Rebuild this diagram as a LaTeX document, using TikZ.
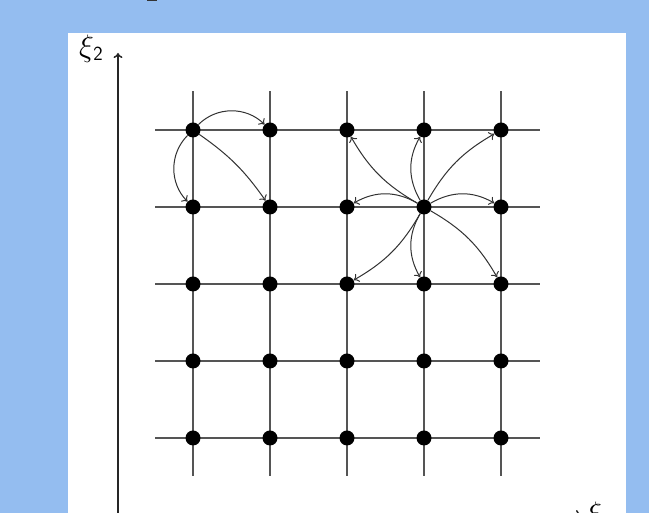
\RequirePackage{fix-cm}
\documentclass[tikz,border=0pt]{standalone}
\usetikzlibrary{arrows.meta}
\definecolor{bgblue}{RGB}{148,189,240}
\definecolor{gridgray}{RGB}{85,85,85}
\definecolor{arrgray}{RGB}{50,50,50}
\tikzset{
  gridline/.style={draw=gridgray, line width=1.4pt},
  dot/.style={circle, fill=black, inner sep=0pt, minimum size=15pt},
  arr/.style={draw=arrgray, line width=1pt, -{To[length=5pt,width=9pt]}},
  axis/.style={draw=black!85, line width=1.5pt, -{To[length=5pt,width=9pt]}},
  lab/.style={font=\fontsize{31}{34}\selectfont, inner sep=0pt}
}
\newcommand{\axlab}[1]{$\xi$\kern-0.5pt\raisebox{-4.6pt}{\fontsize{20}{22}\selectfont\sffamily #1}}
\begin{document}
\begin{tikzpicture}[x=1pt,y=1pt]
\useasboundingbox (0,0) rectangle (649,513);
\clip (0,0) rectangle (649,513);
\fill[bgblue] (0,0) rectangle (649,513);
\fill[white] (68,-20) rectangle (626,480);
\fill[black!80] (147,511.7) rectangle (157,513);
% grid lines
\foreach \r in {1,...,5} {
  \draw[gridline] (155,460-77*\r) -- (540,460-77*\r);
  \draw[gridline] (116+77*\r,37) -- (116+77*\r,422);
}
% dots
\foreach \c in {1,...,5} {
  \foreach \r in {1,...,5} {
    \node[dot] (n\c\r) at (116+77*\c,460-77*\r) {};
  }
}
% axes
\coordinate (yo) at (118,-10);
\coordinate (yt) at (118,460);
\coordinate (xo) at (118,-1.5);
\coordinate (xt) at (581,-1.5);
\draw[axis] (yo) -- (yt);
\draw[axis] (xo) -- (xt);
\node[lab, anchor=base west] (xi2) at (79,456.6) {\axlab{2}};
\node[lab, anchor=base west] (xi1) at (587,-10.5) {\axlab{1}};
% arrows from top-left node
\draw[arr] (n11) to[bend left=45] (n21);
\draw[arr] (n11) to[bend right=45] (n12);
\draw[arr] (n11) to[bend left=10] (n22);
% arrows from centre node
\draw[arr] (n42) to[bend left=30] (n41);
\draw[arr] (n42) to[bend right=30] (n43);
\draw[arr] (n42) to[bend left=30] (n52);
\draw[arr] (n42) to[bend right=30] (n32);
\draw[arr] (n42) to[bend left=15] (n51);
\draw[arr] (n42) to[bend left=15] (n31);
\draw[arr] (n42) to[bend left=15] (n53);
\draw[arr] (n42) to[bend left=15] (n33);
\end{tikzpicture}
\end{document}
